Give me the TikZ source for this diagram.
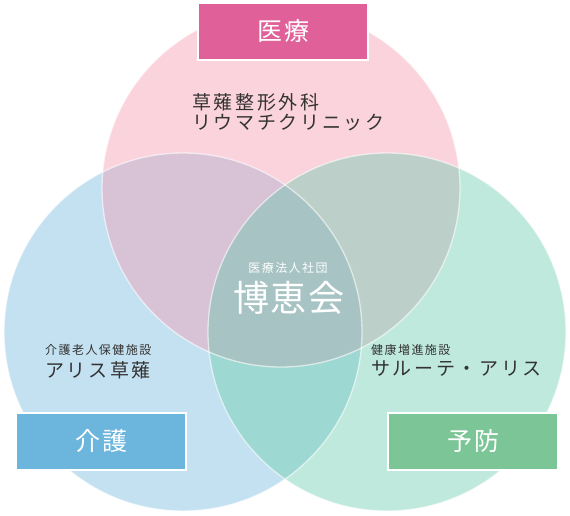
\documentclass[tikz,border=0pt]{standalone}
\usepackage{fontspec}
\usepackage{tikz}
\usetikzlibrary{positioning}
\newfontfamily\jp{Noto Sans CJK JP}
\definecolor{medpink}{HTML}{FBD3DC}
\definecolor{carebl}{HTML}{C4E1F1}
\definecolor{prevgr}{HTML}{BFE9DC}
\definecolor{medcare}{HTML}{D8C2D6}
\definecolor{medprev}{HTML}{BCCFC8}
\definecolor{careprev}{HTML}{9DD8D2}
\definecolor{allthree}{HTML}{A8C3C3}
\definecolor{medbox}{HTML}{E0619A}
\definecolor{carebox}{HTML}{6CB5DD}
\definecolor{prevbox}{HTML}{7CC596}
\definecolor{ink}{HTML}{333333}
\newcommand{\venn}{179pt}
\tikzset{font={\jp\fontsize{12pt}{14}\selectfont}}

\begin{document}
\begin{tikzpicture}[x=1pt,y=-1pt,
ring/.style={draw=white,draw opacity=.6,line width=1.3pt},
catbox/.style={draw=white,line width=2pt,minimum width=170pt,minimum height=57pt,text=white,
  font={\jp\addfontfeature{LetterSpace=8}\fontsize{25pt}{25}\selectfont}},
small/.style={inner sep=0pt,anchor=west,text=ink,font={\jp\addfontfeature{LetterSpace=12}\fontsize{12pt}{14}\selectfont}},
big/.style={inner sep=0pt,anchor=west,text=ink,font={\jp\addfontfeature{LetterSpace=14}\fontsize{19pt}{20.5}\selectfont}}
]
\useasboundingbox (0,0) rectangle (570,515);
\coordinate (med) at (281,188);
\coordinate (care) at (183,332);
\coordinate (prev) at (387,332);

% circles and overlaps
\fill[medpink] (med) circle[radius=\venn];
\fill[carebl] (care) circle[radius=\venn];
\fill[prevgr] (prev) circle[radius=\venn];
\begin{scope}
\clip (care) circle[radius=\venn];
\fill[careprev] (prev) circle[radius=\venn];
\end{scope}
\begin{scope}
\clip (med) circle[radius=\venn];
\fill[medcare] (care) circle[radius=\venn];
\fill[medprev] (prev) circle[radius=\venn];
\clip (care) circle[radius=\venn];
\fill[allthree] (prev) circle[radius=\venn];
\end{scope}
\foreach \c in {med,care,prev}\draw[ring] (\c) circle[radius=\venn];

% category boxes
\node[catbox,fill=medbox] (medlabel) at (283,31) {医療};
\node[catbox,fill=carebox] (carelabel) at (101,441) {介護};
\node[catbox,fill=prevbox] (prevlabel) at (473,441) {予防};

% facilities
\node[big,align=left,anchor=north west] (clinic) at (192,93) {草薙整形外科\\リウマチクリニック};
\node[small] (roujin) at (45,350) {介護老人保健施設};
\node[big] (alis) at (45,370) {アリス草薙};
\node[small] (kenko) at (371,350) {健康増進施設};
\node[big] (salute) at (371,369) {サルーテ・アリス};
\node[small,anchor=center,text=white] (houjin) at (288,268) {医療法人社団};
\node[anchor=center,inner sep=0pt,text=white,font={\jp\addfontfeature{LetterSpace=5}\fontsize{36pt}{36}\selectfont}] (hakei) at (289,298) {博恵会};

\end{tikzpicture}
\end{document}
